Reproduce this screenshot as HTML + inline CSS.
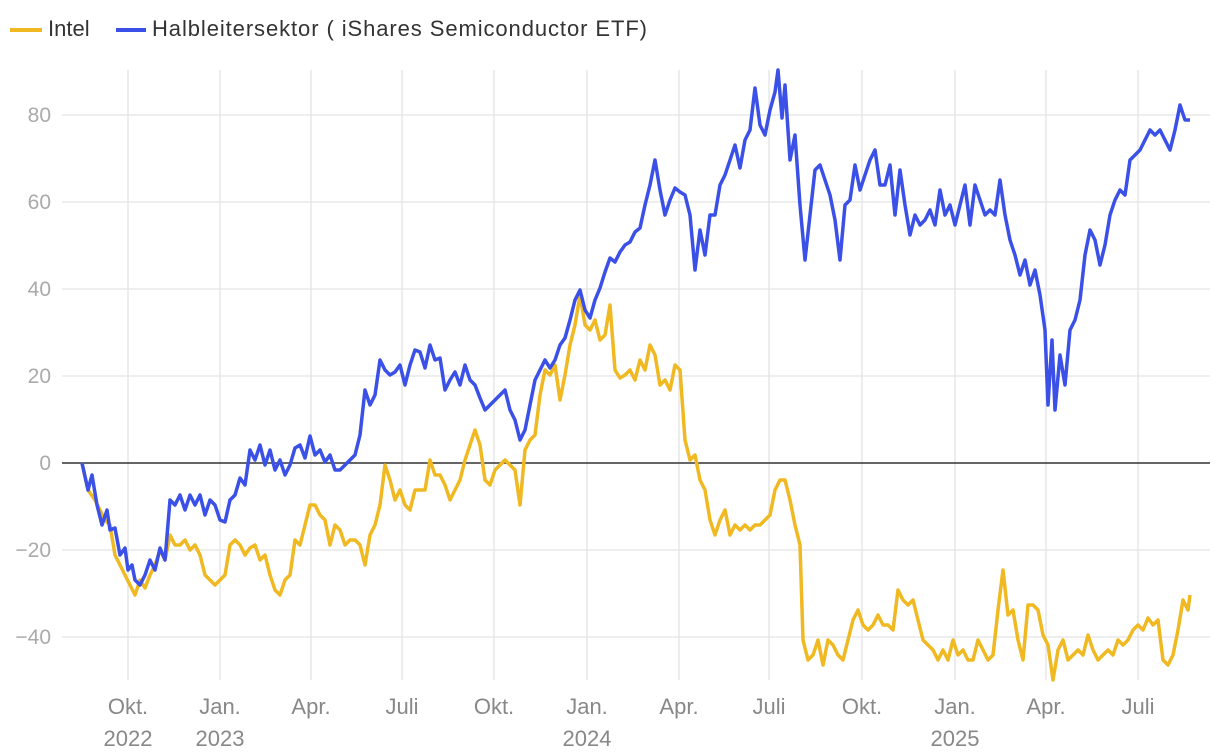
<!DOCTYPE html>
<html><head><meta charset="utf-8"><style>
html,body{margin:0;padding:0;background:#fff;}
svg{display:block;font-family:"Liberation Sans",sans-serif;}
</style></head><body>
<svg width="1220" height="756" viewBox="0 0 1220 756">
<g stroke="#e3e3e3" stroke-width="1.3">
<line x1="62" x2="1210" y1="115" y2="115"/><line x1="62" x2="1210" y1="202" y2="202"/><line x1="62" x2="1210" y1="289" y2="289"/><line x1="62" x2="1210" y1="376" y2="376"/><line x1="62" x2="1210" y1="550" y2="550"/><line x1="62" x2="1210" y1="637" y2="637"/>
<line x1="128" x2="128" y1="70" y2="680"/><line x1="220" x2="220" y1="70" y2="680"/><line x1="311" x2="311" y1="70" y2="680"/><line x1="402" x2="402" y1="70" y2="680"/><line x1="494" x2="494" y1="70" y2="680"/><line x1="587" x2="587" y1="70" y2="680"/><line x1="679" x2="679" y1="70" y2="680"/><line x1="769" x2="769" y1="70" y2="680"/><line x1="862" x2="862" y1="70" y2="680"/><line x1="955" x2="955" y1="70" y2="680"/><line x1="1046" x2="1046" y1="70" y2="680"/><line x1="1138" x2="1138" y1="70" y2="680"/>
</g>
<line x1="62" x2="1210" y1="463" y2="463" stroke="#333" stroke-width="1.6"/>
<g fill="#aaa" font-size="21" text-anchor="end">
<text x="51" y="122">80</text><text x="51" y="209">60</text><text x="51" y="296">40</text><text x="51" y="383">20</text><text x="51" y="470">0</text><text x="51" y="557">−20</text><text x="51" y="644">−40</text>
</g>
<g fill="#888" font-size="22" text-anchor="middle">
<text x="128" y="714">Okt.</text><text x="128" y="746">2022</text>
<text x="220" y="714">Jan.</text><text x="220" y="746">2023</text>
<text x="311" y="714">Apr.</text><text x="402" y="714">Juli</text><text x="494" y="714">Okt.</text>
<text x="587" y="714">Jan.</text><text x="587" y="746">2024</text>
<text x="679" y="714">Apr.</text><text x="769" y="714">Juli</text><text x="862" y="714">Okt.</text>
<text x="955" y="714">Jan.</text><text x="955" y="746">2025</text>
<text x="1046" y="714">Apr.</text><text x="1138" y="714">Juli</text>
</g>
<polyline fill="none" stroke="#f0b921" stroke-width="3.5" stroke-linejoin="round" points="82,463 88,490 95,500 100,510 105,520 110,525 115,555 120,565 125,575 130,585 135,595 140,580 145,588 150,575 155,565 160,550 165,560 170,535 175,545 180,545 185,540 190,550 195,545 200,555 205,575 210,580 215,585 220,580 225,575 230,545 235,540 240,545 245,555 250,548 255,545 260,560 265,555 270,575 275,590 280,595 285,580 290,575 295,540 300,545 305,525 310,505 315,505 320,515 325,520 330,545 335,525 340,530 345,545 350,540 355,540 360,545 365,565 370,535 375,525 380,505 385,465 390,480 395,500 400,490 405,505 410,510 415,490 420,490 425,490 430,460 435,475 440,475 445,485 450,500 455,490 460,480 465,460 470,445 475,430 480,445 485,480 490,485 495,470 500,465 505,460 510,465 515,470 520,505 525,450 530,440 535,435 540,395 545,370 550,375 555,365 560,400 565,375 570,345 575,325 580,295 585,325 590,330 595,320 600,340 605,335 610,305 615,370 620,378 625,375 630,370 635,380 640,360 645,370 650,345 655,355 660,385 665,380 670,390 675,365 680,370 685,440 690,460 695,455 700,480 705,490 710,520 715,535 720,520 725,510 730,535 735,525 740,530 745,525 750,530 755,525 760,525 765,520 770,515 775,490 780,480 785,480 790,500 795,525 800,545 803,640 808,660 813,655 818,640 823,665 828,640 833,645 838,655 843,660 848,640 853,620 858,610 863,625 868,630 873,625 878,615 883,625 888,625 893,630 898,590 903,600 908,605 913,600 918,620 923,640 928,645 933,650 938,660 943,650 948,660 953,640 958,655 963,650 968,660 973,660 978,640 983,650 988,660 993,655 998,610 1003,570 1008,615 1013,610 1018,640 1023,660 1028,605 1033,605 1038,610 1043,635 1048,645 1053,680 1058,650 1063,640 1068,660 1073,655 1078,650 1083,655 1088,635 1093,650 1098,660 1103,655 1108,650 1113,655 1118,640 1123,645 1128,640 1133,630 1138,625 1143,630 1148,618 1153,625 1158,620 1163,660 1168,665 1173,655 1178,630 1183,600 1188,610 1190,595"/>
<polyline fill="none" stroke="#3a50e6" stroke-width="3.5" stroke-linejoin="round" points="82,463 88,490 92,475 97,505 102,525 107,510 110,530 115,528 120,555 125,548 128,570 132,565 135,580 140,585 145,575 150,560 155,570 160,548 165,560 170,500 175,505 180,495 185,510 190,495 195,505 200,495 205,515 210,500 215,505 220,520 225,522 230,500 235,495 240,478 245,485 250,450 255,460 260,445 265,465 270,450 275,470 280,460 285,475 290,465 295,448 300,445 305,458 310,436 315,455 320,450 325,462 330,455 335,470 340,470 345,465 350,460 355,455 360,435 365,390 370,405 375,395 380,360 385,370 390,375 395,372 400,365 405,385 410,365 415,350 420,352 425,368 430,345 435,360 440,358 445,390 450,380 455,372 460,385 465,365 470,380 475,385 480,398 485,410 490,405 495,400 500,395 505,390 510,410 515,420 520,440 525,430 530,405 535,380 540,370 545,360 550,368 555,360 560,345 565,338 570,320 575,300 580,290 585,310 590,318 595,300 600,288 605,272 610,258 615,262 620,252 625,245 630,242 635,232 640,228 645,205 650,185 655,160 660,190 665,215 670,200 675,188 680,192 685,195 690,215 695,270 700,230 705,255 710,215 715,215 720,185 725,175 730,160 735,145 740,168 745,140 750,130 755,88 760,125 765,135 770,110 775,92 778,70 782,118 785,85 790,160 795,135 800,205 805,260 810,215 815,170 820,165 825,180 830,195 835,220 840,260 845,205 850,200 855,165 860,190 865,175 870,160 875,150 880,185 885,185 890,165 895,215 900,170 905,205 910,235 915,215 920,225 925,220 930,210 935,225 940,190 945,215 950,205 955,225 960,205 965,185 970,225 975,185 980,200 985,215 990,210 995,215 1000,180 1005,215 1010,240 1015,255 1020,275 1025,260 1030,285 1035,270 1040,295 1045,330 1048,405 1052,340 1055,410 1060,355 1065,385 1070,330 1075,320 1080,300 1085,255 1090,230 1095,240 1100,265 1105,245 1110,215 1115,200 1120,190 1125,195 1130,160 1135,155 1140,150 1145,140 1150,130 1155,135 1160,130 1165,140 1170,150 1175,130 1180,105 1185,120 1190,120"/>
<line x1="10" x2="42" y1="30" y2="30" stroke="#f0b921" stroke-width="4"/>
<text x="48" y="36" font-size="22" fill="#333">Intel</text>
<line x1="116" x2="146" y1="30" y2="30" stroke="#3a50e6" stroke-width="4"/>
<text x="152" y="36" font-size="22" fill="#333" textLength="495">Halbleitersektor ( iShares Semiconductor ETF)</text>
</svg>
</body></html>
